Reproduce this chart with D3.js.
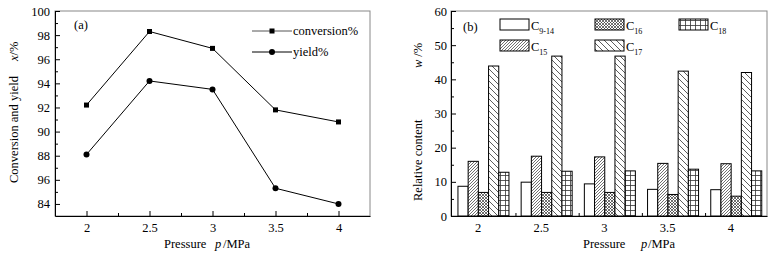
<!DOCTYPE html>
<html>
<head>
<meta charset="utf-8">
<script src="https://cdn.jsdelivr.net/npm/d3@7"></script>
<style>
  body { margin: 0; background: #fff; }
  svg { display: block; font-family: "Liberation Serif", "Times New Roman", serif; }
  .axis text { font-size: 12.5px; font-family: "Liberation Serif", serif; fill: #000; }
  .axis path, .axis line { stroke: #000; stroke-width: 1; }
</style>
</head>
<body>
<div id="chart"></div>
<script>
// ---- data ----
const pressures = [2, 2.5, 3, 3.5, 4];

// panel (a)
const conversion = [92.2, 98.3, 96.9, 91.8, 90.8];
const yieldPct = [88.1, 94.2, 93.5, 85.3, 84.0];
const yTicksA = [84, 86, 88, 90, 92, 94, 96, 98, 100];
const yTickLabelsA = ["84", "96", "88", "90", "92", "94", "96", "98", "100"];
const xTickLabels = ["2", "2.5", "3", "3.5", "4"];

// panel (b)
const fractionKeys = ["c9_14", "c15", "c16", "c17", "c18"];
const fractionSubs = ["9-14", "15", "16", "17", "18"];
const c9_14 = [8.7, 9.9, 9.4, 7.8, 7.7];
const c15 = [16.0, 17.5, 17.3, 15.4, 15.3];
const c16 = [6.9, 6.9, 6.9, 6.3, 5.8];
const c17 = [43.9, 46.8, 46.8, 42.4, 42.0];
const c18 = [12.8, 13.1, 13.2, 13.7, 13.2];
const yTicksB = [0, 10, 20, 30, 40, 50, 60];

const W = 775, H = 256;
const svg = d3.select("#chart").append("svg")
    .attr("width", W)
    .attr("height", H);

// hatch patterns
const defs = svg.append("defs");
function pattern(id, size, draw) {
    const p = defs.append("pattern")
        .attr("id", id)
        .attr("patternUnits", "userSpaceOnUse")
        .attr("width", size)
        .attr("height", size);
    p.append("rect").attr("width", size).attr("height", size).attr("fill", "#fff");
    draw(p, size);
}
const hatchStroke = "#333";
pattern("p-none", 4, () => {});
pattern("p-fwd", 3, (p, s) => {
    p.append("path").attr("d", `M0,${s} L${s},0 M-1,1 L1,-1 M${s - 1},${s + 1} L${s + 1},${s - 1}`)
        .attr("stroke", hatchStroke).attr("stroke-width", 0.7);
});
pattern("p-cross", 3, (p, s) => {
    p.append("path").attr("d", `M0,0 L${s},${s} M0,${s} L${s},0`)
        .attr("stroke", hatchStroke).attr("stroke-width", 0.7);
});
pattern("p-back", 6, (p, s) => {
    p.append("path").attr("d", `M0,0 L${s},${s} M-1,${s - 1} L1,${s + 1} M${s - 1},-1 L${s + 1},1`)
        .attr("stroke", hatchStroke).attr("stroke-width", 0.8);
});
pattern("p-grid", 5, (p, s) => {
    p.append("path").attr("d", `M0,0.5 H${s} M0.5,0 V${s}`)
        .attr("stroke", hatchStroke).attr("stroke-width", 0.8);
});
const fills = ["p-none", "p-fwd", "p-cross", "p-back", "p-grid"];

// ================= panel (a) =================
const a = { left: 55, right: 370, top: 11, bottom: 216 };

const xA = d3.scaleLinear().domain([1.75, 4.25]).range([a.left, a.right]);
const yA = d3.scaleLinear().domain([83, 100]).range([a.bottom, a.top]);

// frame
svg.append("rect")
    .attr("x", a.left).attr("y", a.top)
    .attr("width", a.right - a.left).attr("height", a.bottom - a.top)
    .attr("fill", "none").attr("stroke", "#888");

// minor ticks
svg.append("g").attr("class", "axis")
    .attr("transform", `translate(0,${a.bottom})`)
    .call(d3.axisBottom(xA).tickValues([2.25, 2.75, 3.25, 3.75]).tickSize(-3).tickFormat(""))
    .call(g => g.select(".domain").remove());
svg.append("g").attr("class", "axis")
    .attr("transform", `translate(${a.left},0)`)
    .call(d3.axisLeft(yA).tickValues([85, 87, 89, 91, 93, 95, 97, 99]).tickSize(-3).tickFormat(""))
    .call(g => g.select(".domain").remove());

// major axes
svg.append("g").attr("class", "axis")
    .attr("transform", `translate(0,${a.bottom})`)
    .call(d3.axisBottom(xA).tickValues(pressures).tickSize(-5).tickSizeOuter(0).tickPadding(7)
        .tickFormat((d, i) => xTickLabels[i]));
svg.append("g").attr("class", "axis")
    .attr("transform", `translate(${a.left},0)`)
    .call(d3.axisLeft(yA).tickValues(yTicksA).tickSize(-5).tickSizeOuter(0).tickPadding(5)
        .tickFormat((d, i) => yTickLabelsA[i]));

const lineA = d3.line()
    .x((d, i) => xA(pressures[i]))
    .y(d => yA(d));

svg.append("path").datum(conversion)
    .attr("d", lineA).attr("fill", "none").attr("stroke", "#000").attr("stroke-width", 1);
svg.append("path").datum(yieldPct)
    .attr("d", lineA).attr("fill", "none").attr("stroke", "#000").attr("stroke-width", 1);

svg.selectAll(".sq").data(conversion).enter().append("rect")
    .attr("class", "sq")
    .attr("x", (d, i) => xA(pressures[i]) - 2.5)
    .attr("y", d => yA(d) - 2.5)
    .attr("width", 5).attr("height", 5)
    .attr("fill", "#000");
svg.selectAll(".dot").data(yieldPct).enter().append("circle")
    .attr("class", "dot")
    .attr("cx", (d, i) => xA(pressures[i]))
    .attr("cy", d => yA(d))
    .attr("r", 3)
    .attr("fill", "#000");

// legend (a)
const legA = [
    { label: "conversion%", y: 31, mark: "sq", stroke: "#555" },
    { label: "yield%", y: 52, mark: "dot", stroke: "#000" }
];
legA.forEach(l => {
    svg.append("line")
        .attr("x1", 252).attr("x2", 292).attr("y1", l.y).attr("y2", l.y)
        .attr("stroke", l.stroke);
    if (l.mark === "sq") {
        svg.append("rect").attr("x", 269.5).attr("y", l.y - 2.5).attr("width", 5).attr("height", 5).attr("fill", "#000");
    } else {
        svg.append("circle").attr("cx", 272).attr("cy", l.y).attr("r", 3).attr("fill", "#000");
    }
    svg.append("text")
        .attr("x", 293).attr("y", l.y + 4)
        .style("font-size", "12.5px")
        .text(l.label);
});

svg.append("text").attr("x", 74).attr("y", 29).style("font-size", "12.5px").text("(a)");

// axis titles (a)
svg.append("text")
    .attr("transform", "translate(18,183) rotate(-90)")
    .style("font-size", "12.5px")
    .text("Conversion and yield");
const yLabA = svg.append("text")
    .attr("transform", "translate(18,61) rotate(-90)")
    .style("font-size", "12.5px");
yLabA.append("tspan").style("font-style", "italic").text("x");
yLabA.append("tspan").text("/%");

const xLabA = svg.append("text").attr("y", 248).style("font-size", "12.5px");
xLabA.append("tspan").attr("x", 164).text("Pressure");
xLabA.append("tspan").attr("x", 215).style("font-style", "italic").text("p");
xLabA.append("tspan").attr("x", 223).text("/MPa");

// ================= panel (b) =================
const b = { left: 451, right: 767, top: 11, bottom: 216 };

const xB = d3.scaleLinear().domain([1.79, 4.29]).range([b.left, b.right]);
const yB = d3.scaleLinear().domain([0, 60]).range([b.bottom, b.top]);

// bar groups sit slightly right of each pressure value
const step = xB(2.5) - xB(2);
const groupStart = -0.31 * step;
const inner = d3.scaleBand().domain(fractionKeys).range([0, 0.807 * step]);

const series = [c9_14, c15, c16, c17, c18];

svg.append("rect")
    .attr("x", b.left).attr("y", b.top)
    .attr("width", b.right - b.left).attr("height", b.bottom - b.top)
    .attr("fill", "none").attr("stroke", "#888");

// bars
series.forEach((vals, j) => {
    svg.selectAll(".bar-" + j).data(vals).enter().append("rect")
        .attr("class", "bar-" + j)
        .attr("x", (d, i) => xB(pressures[i]) + groupStart + inner(fractionKeys[j]))
        .attr("y", d => yB(d))
        .attr("width", inner.bandwidth())
        .attr("height", d => yB(0) - yB(d))
        .attr("fill", `url(#${fills[j]})`)
        .attr("stroke", "#000")
        .attr("stroke-width", 1);
});

// minor ticks between groups
svg.append("g").attr("class", "axis")
    .attr("transform", `translate(0,${b.bottom})`)
    .call(d3.axisBottom(xB).tickValues([2.3, 2.8, 3.3, 3.8]).tickSize(-3).tickFormat(""))
    .call(g => g.select(".domain").remove());
svg.append("g").attr("class", "axis")
    .attr("transform", `translate(${b.left},0)`)
    .call(d3.axisLeft(yB).tickValues([5, 15, 25, 35, 45, 55]).tickSize(-3).tickFormat(""))
    .call(g => g.select(".domain").remove());

svg.append("g").attr("class", "axis")
    .attr("transform", `translate(0,${b.bottom})`)
    .call(d3.axisBottom(xB).tickValues(pressures).tickSize(0).tickSizeOuter(0).tickPadding(7)
        .tickFormat((d, i) => xTickLabels[i]));
svg.append("g").attr("class", "axis")
    .attr("transform", `translate(${b.left},0)`)
    .call(d3.axisLeft(yB).tickValues(yTicksB).tickSize(-5).tickSizeOuter(0).tickPadding(4));

// legend (b): C9-14, C15 in col 1; C16, C17 in col 2; C18 in col 3
const legB = [
    { x: 500, y: 19 }, { x: 500, y: 40 },
    { x: 595, y: 19 }, { x: 595, y: 40 },
    { x: 679, y: 19 }
];
legB.forEach((pos, j) => {
    svg.append("rect")
        .attr("x", pos.x).attr("y", pos.y)
        .attr("width", 29).attr("height", 11)
        .attr("fill", `url(#${fills[j]})`)
        .attr("stroke", "#000");
    const t = svg.append("text")
        .attr("x", pos.x + 31).attr("y", pos.y + 11)
        .style("font-size", "12.5px");
    t.append("tspan").text("C");
    t.append("tspan").attr("dy", 4).style("font-size", "8px").text(fractionSubs[j]);
});

svg.append("text").attr("x", 463).attr("y", 31).style("font-size", "12.5px").text("(b)");

svg.append("text")
    .attr("transform", "translate(422,201) rotate(-90)")
    .style("font-size", "12.5px")
    .text("Relative content");
const yLabB = svg.append("text")
    .attr("transform", "translate(422,68) rotate(-90)")
    .style("font-size", "12.5px");
yLabB.append("tspan").style("font-style", "italic").text("w");
yLabB.append("tspan").attr("dx", 3).text("/%");

const xLabB = svg.append("text").attr("y", 248).style("font-size", "12.5px");
xLabB.append("tspan").attr("x", 583).text("Pressure");
xLabB.append("tspan").attr("x", 641).style("font-style", "italic").text("p");
xLabB.append("tspan").attr("x", 648).text("/MPa");
</script>
</body>
</html>
